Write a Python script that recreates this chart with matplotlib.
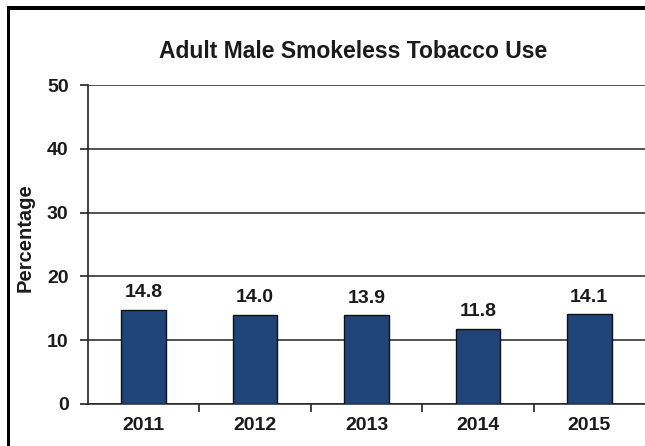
import matplotlib
matplotlib.use('Agg')
import matplotlib.pyplot as plt
from matplotlib.patches import Rectangle

# Chart data
years = ['2011', '2012', '2013', '2014', '2015']
male_use = [14.8, 14.0, 13.9, 11.8, 14.1]
y_ticks = [0, 10, 20, 30, 40, 50]

plt.rcParams['font.family'] = ['Liberation Sans', 'DejaVu Sans']
plt.rcParams['font.weight'] = 'bold'

fig = plt.figure(figsize=(6.45, 4.46), dpi=100)
ax = fig.add_axes([88 / 645, 1 - 404 / 446, 1 - 88 / 645, (404 - 85) / 446])

x = range(len(years))
bars = ax.bar(x, male_use, width=0.4, color='#1f4477', edgecolor='#111111',
              linewidth=1.0, zorder=3)

# Value labels above each bar
for xi, v in zip(x, male_use):
    ax.text(xi, v + 1.3, f'{v:.1f}', ha='center', va='bottom',
            fontsize=14, fontweight='bold', color='#1a1a1a')

ax.set_xlim(-0.5, len(years) - 0.5)
ax.set_ylim(0, 50)
ax.set_yticks(y_ticks)
ax.set_yticklabels([str(t) for t in y_ticks], fontsize=14, fontweight='bold', color='#1a1a1a')

# Category labels centred, tick marks on the category boundaries
ax.set_xticks(list(x))
ax.set_xticklabels(years, fontsize=14, fontweight='bold', color='#1a1a1a')
ax.tick_params(axis='x', length=0, pad=9)
ax.set_xticks([i + 0.5 for i in range(len(years) - 1)], minor=True)
ax.tick_params(axis='x', which='minor', length=6, width=1.2, color='#222222', direction='out')
ax.tick_params(axis='y', length=6, width=1.2, color='#222222', pad=8)

ax.yaxis.grid(True, color='#222222', linewidth=1.1, zorder=0)
ax.set_axisbelow(True)
for s in ['top', 'right']:
    ax.spines[s].set_visible(False)
ax.spines['left'].set_color('#222222')
ax.spines['left'].set_linewidth(1.2)
ax.spines['bottom'].set_color('#222222')
ax.spines['bottom'].set_linewidth(1.1)

ax.set_ylabel('Percentage', fontsize=14.5, fontweight='bold', color='#1a1a1a')
ax.yaxis.set_label_coords(-0.095, 0.523)

fig.text(353 / 645, 1 - 51 / 446, 'Adult Male Smokeless Tobacco Use', ha='center', va='center',
         fontsize=16.5, fontweight='bold', color='#1a1a1a')

# Outer frame (only top and left edges visible), drawn as filled strips
W, H = 645, 446
fig.add_artist(Rectangle((6.5 / W, 0), 3 / W, (H - 6.5) / H, transform=fig.transFigure,
                         facecolor='black', linewidth=0))
fig.add_artist(Rectangle((6.5 / W, (H - 9.5) / H), (W - 6.5) / W, 3 / H, transform=fig.transFigure,
                         facecolor='black', linewidth=0))

fig.savefig('out.png', dpi=100)
